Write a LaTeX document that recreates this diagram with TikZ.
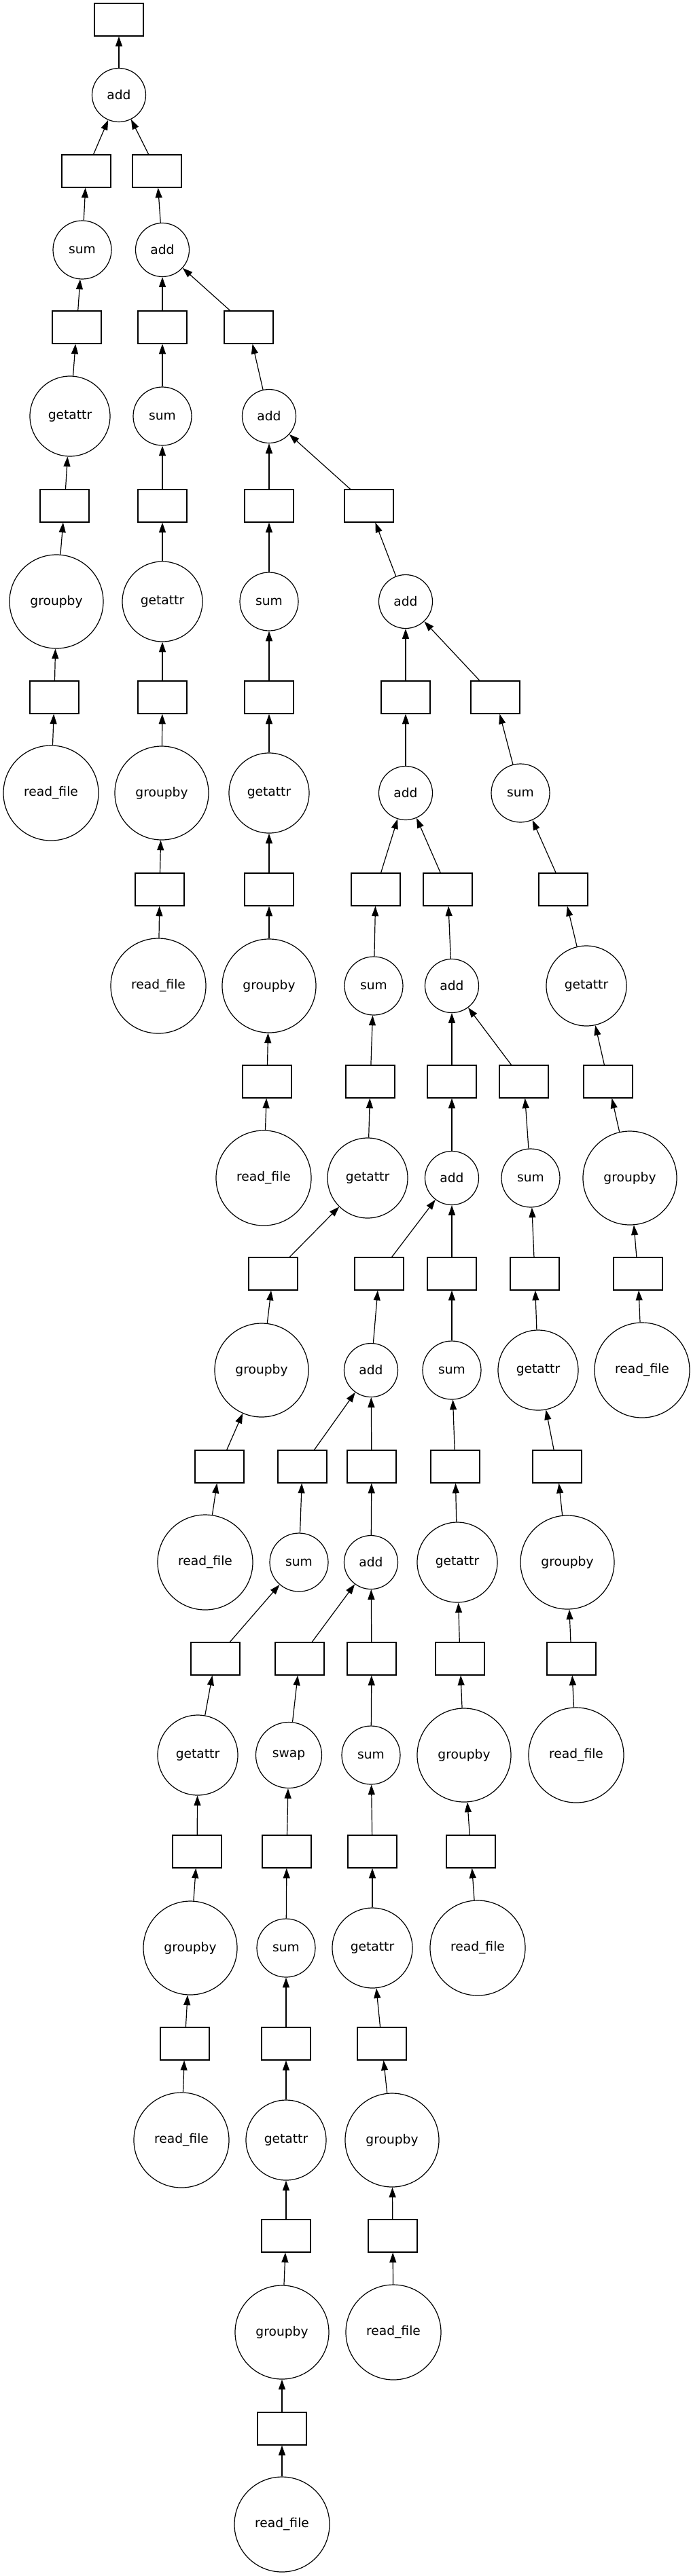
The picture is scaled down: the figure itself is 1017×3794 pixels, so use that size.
\documentclass[tikz,border=0pt]{standalone}
\usepackage{fontspec}
\setmainfont{DejaVu Sans}
\usetikzlibrary{arrows.meta}
\begin{document}
\begin{tikzpicture}[x=0.75pt,y=-0.75pt,
  every node/.style={font=\fontsize{14pt}{16pt}\selectfont, line width=0.9pt},
  dbox/.style={draw, rectangle, minimum width=54pt, minimum height=36pt, inner sep=0pt},
  fn/.style={draw, circle, inner sep=0pt},
  fadd/.style={fn, minimum size=59.25pt},
  fsum/.style={fn, minimum size=64.5pt},
  fswap/.style={fn, minimum size=72.75pt},
  fget/.style={fn, minimum size=88.5pt},
  fgrp/.style={fn, minimum size=103.5pt},
  frd/.style={fn, minimum size=105pt},
  arr/.style={-{Triangle[length=11pt,width=7.5pt]}, line width=0.9pt}]
\useasboundingbox (0,0) rectangle (1017,3794);
% row r0 / c1
\node[dbox] (b0) at (175,29) {};
\node[fadd] (a0) at (175,140) {add};
% r1
\node[dbox] (b1) at (127,252) {};
\node[dbox] (b2) at (231,252) {};
% c2
\node[fsum] (s1) at (121,368) {sum};
\node[fadd] (a1) at (239,368) {add};
% r2
\node[dbox] (b3) at (113,482) {};
\node[dbox] (b4) at (239,482) {};
\node[dbox] (b5) at (366,482) {};
% c3
\node[fget] (g1) at (103,613) {getattr};
\node[fsum] (s2) at (239,613) {sum};
\node[fadd] (a2) at (396,613) {add};
% r3
\node[dbox] (b6) at (95,745) {};
\node[dbox] (b7) at (239,745) {};
\node[dbox] (b8) at (396,745) {};
\node[dbox] (b9) at (543,745) {};
% c4
\node[fgrp] (gb1) at (83,886) {groupby};
\node[fget] (g2) at (239,886) {getattr};
\node[fsum] (s3) at (396,886) {sum};
\node[fadd] (a3) at (597,886) {add};
% r4
\node[dbox] (b10) at (80,1027) {};
\node[dbox] (b11) at (239,1027) {};
\node[dbox] (b12) at (396,1027) {};
\node[dbox] (b13) at (597,1027) {};
\node[dbox] (b14) at (729,1027) {};
% c5
\node[frd] (rf1) at (75,1168) {read\_file};
\node[fgrp] (gb2) at (238,1168) {groupby};
\node[fget] (g3) at (396,1168) {getattr};
\node[fadd] (a4) at (597,1168) {add};
\node[fsum] (s4) at (766,1168) {sum};
% r5
\node[dbox] (b15) at (235,1310) {};
\node[dbox] (b16) at (396,1310) {};
\node[dbox] (b17) at (553,1310) {};
\node[dbox] (b18) at (659,1310) {};
\node[dbox] (b19) at (829,1310) {};
% c6
\node[frd] (rf2) at (233,1452) {read\_file};
\node[fgrp] (gb3) at (396,1452) {groupby};
\node[fsum] (s5) at (550,1452) {sum};
\node[fadd] (a5) at (665,1452) {add};
\node[fget] (g4) at (863,1452) {getattr};
% r6
\node[dbox] (b20) at (393,1593) {};
\node[dbox] (b21) at (545,1593) {};
\node[dbox] (b22) at (665,1593) {};
\node[dbox] (b23) at (771,1593) {};
\node[dbox] (b24) at (895,1593) {};
% c7
\node[frd] (rf3) at (388,1735) {read\_file};
\node[fget] (g5) at (541,1735) {getattr};
\node[fadd] (a6) at (665,1735) {add};
\node[fsum] (s6) at (781,1735) {sum};
\node[fgrp] (gb4) at (927,1735) {groupby};
% r7
\node[dbox] (b25) at (402,1876) {};
\node[dbox] (b26) at (558,1876) {};
\node[dbox] (b27) at (665,1876) {};
\node[dbox] (b28) at (787,1876) {};
\node[dbox] (b29) at (939,1876) {};
% c8
\node[fgrp] (gb5) at (385,2018) {groupby};
\node[fadd] (a7) at (546,2018) {add};
\node[fsum] (s7) at (665,2018) {sum};
\node[fget] (g6) at (792,2018) {getattr};
\node[frd] (rf4) at (945,2018) {read\_file};
% r8
\node[dbox] (b30) at (323,2160) {};
\node[dbox] (b31) at (445,2160) {};
\node[dbox] (b32) at (547,2160) {};
\node[dbox] (b33) at (670,2160) {};
\node[dbox] (b34) at (820,2160) {};
% c9
\node[frd] (rf5) at (302,2301) {read\_file};
\node[fsum] (s8) at (440,2301) {sum};
\node[fadd] (a8) at (546,2301) {add};
\node[fget] (g7) at (673,2301) {getattr};
\node[fgrp] (gb6) at (835,2301) {groupby};
% r9
\node[dbox] (b35) at (317,2443) {};
\node[dbox] (b36) at (441,2443) {};
\node[dbox] (b37) at (547,2443) {};
\node[dbox] (b38) at (677,2443) {};
\node[dbox] (b39) at (841,2443) {};
% c10
\node[fget] (g8) at (291,2585) {getattr};
\node[fswap] (sw) at (425,2585) {swap};
\node[fsum] (s9) at (546,2585) {sum};
\node[fgrp] (gb7) at (683,2585) {groupby};
\node[frd] (rf6) at (848,2585) {read\_file};
% r10
\node[dbox] (b40) at (290,2727) {};
\node[dbox] (b41) at (422,2727) {};
\node[dbox] (b42) at (548,2727) {};
\node[dbox] (b43) at (693,2727) {};
% c11
\node[fgrp] (gb8) at (280,2869) {groupby};
\node[fsum] (s10) at (421,2869) {sum};
\node[fget] (g9) at (548,2869) {getattr};
\node[frd] (rf7) at (703,2869) {read\_file};
% r11
\node[dbox] (b44) at (272,3010) {};
\node[dbox] (b45) at (421,3010) {};
\node[dbox] (b46) at (562,3010) {};
% c12
\node[frd] (rf8) at (267,3152) {read\_file};
\node[fget] (g10) at (421,3152) {getattr};
\node[fgrp] (gb9) at (577,3152) {groupby};
% r12
\node[dbox] (b47) at (421,3293) {};
\node[dbox] (b48) at (578,3293) {};
% c13
\node[fgrp] (gb10) at (415,3435) {groupby};
\node[frd] (rf9) at (579,3435) {read\_file};
% r13
\node[dbox] (b49) at (415,3577) {};
% c14
\node[frd] (rf10) at (415,3718) {read\_file};
% edges
\foreach \s/\t in {a0/b0, b1/a0, b2/a0, s1/b1, a1/b2,
  b3/s1, b4/a1, b5/a1,
  g1/b3, s2/b4, a2/b5,
  b6/g1, b7/s2, b8/a2, b9/a2,
  gb1/b6, g2/b7, s3/b8, a3/b9,
  b10/gb1, b11/g2, b12/s3, b13/a3, b14/a3,
  rf1/b10, gb2/b11, g3/b12, a4/b13, s4/b14,
  b15/gb2, b16/g3, b17/a4, b18/a4, b19/s4,
  rf2/b15, gb3/b16, s5/b17, a5/b18, g4/b19,
  b20/gb3, b21/s5, b22/a5, b23/a5, b24/g4,
  rf3/b20, g5/b21, a6/b22, s6/b23, gb4/b24,
  b25/g5, b26/a6, b27/a6, b28/s6, b29/gb4,
  gb5/b25, a7/b26, s7/b27, g6/b28, rf4/b29,
  b30/gb5, b31/a7, b32/a7, b33/s7, b34/g6,
  rf5/b30, s8/b31, a8/b32, g7/b33, gb6/b34,
  b35/s8, b36/a8, b37/a8, b38/g7, b39/gb6,
  g8/b35, sw/b36, s9/b37, gb7/b38, rf6/b39,
  b40/g8, b41/sw, b42/s9, b43/gb7,
  gb8/b40, s10/b41, g9/b42, rf7/b43,
  b44/gb8, b45/s10, b46/g9,
  rf8/b44, g10/b45, gb9/b46,
  b47/g10, b48/gb9,
  gb10/b47, rf9/b48,
  b49/gb10,
  rf10/b49}
  \draw[arr] (\s) -- (\t);
\end{tikzpicture}
\end{document}
